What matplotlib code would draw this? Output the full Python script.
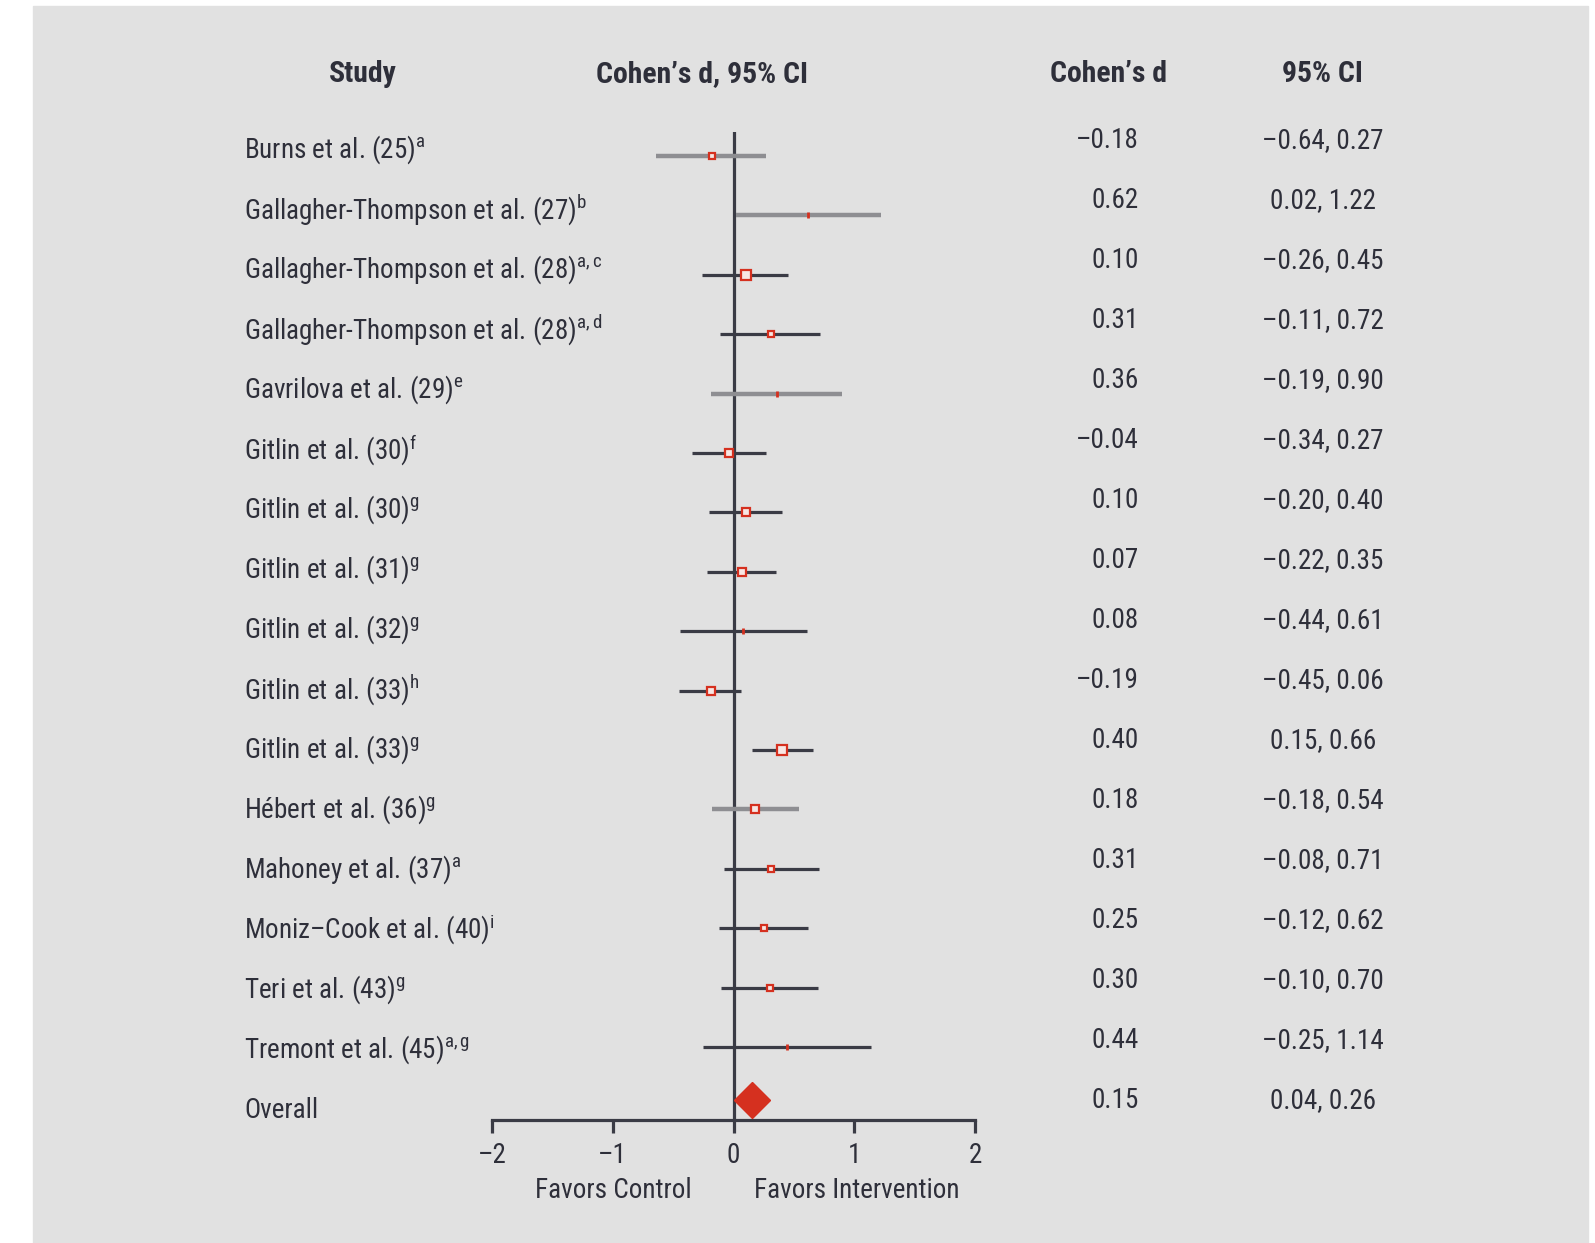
import matplotlib
matplotlib.use("Agg")
import matplotlib.pyplot as plt
from matplotlib import font_manager
from matplotlib.patches import Rectangle

# data
studies = [
    "Burns et al. (25)", "Gallagher-Thompson et al. (27)",
    "Gallagher-Thompson et al. (28)", "Gallagher-Thompson et al. (28)",
    "Gavrilova et al. (29)", "Gitlin et al. (30)", "Gitlin et al. (30)",
    "Gitlin et al. (31)", "Gitlin et al. (32)", "Gitlin et al. (33)",
    "Gitlin et al. (33)", "Hébert et al. (36)", "Mahoney et al. (37)",
    "Moniz\u2013Cook et al. (40)", "Teri et al. (43)", "Tremont et al. (45)",
]
notes = ["a", "b", "a,c", "a,d", "e", "f", "g", "g", "g", "h", "g", "g",
         "a", "i", "g", "a,g"]
d = [-0.18, 0.62, 0.10, 0.31, 0.36, -0.04, 0.10, 0.07, 0.08, -0.19, 0.40,
     0.18, 0.31, 0.25, 0.30, 0.44]
ci_lo = [-0.64, 0.02, -0.26, -0.11, -0.19, -0.34, -0.20, -0.22, -0.44,
         -0.45, 0.15, -0.18, -0.08, -0.12, -0.10, -0.25]
ci_hi = [0.27, 1.22, 0.45, 0.72, 0.90, 0.27, 0.40, 0.35, 0.61, 0.06, 0.66,
         0.54, 0.71, 0.62, 0.70, 1.14]
weight = [5, 1, 6.5, 4.5, 1, 6, 6, 6, 1, 6, 6.5, 6, 4.5, 4.5, 4.5, 1]
overall_d, overall_lo, overall_hi = 0.15, 0.04, 0.26
xticks = [-2, -1, 0, 1, 2]

# styling
grey_rows = [0, 1, 4, 11]
W, H = 1595, 1243
BG = "#e1e1e1"
TXT = "#2e2f3a"
DARK = "#3a3b45"
RED = "#d5301f"

# look for a condensed face, otherwise shrink a normal one
fam, FS = "Liberation Sans", 17
for cand in ["Liberation Sans Narrow", "Roboto Condensed",
             "Open Sans Condensed", "DejaVu Sans Condensed"]:
    try:
        font_manager.findfont(cand, fallback_to_default=False)
        fam, FS = cand, 19.5
        break
    except ValueError:
        pass
HFS = FS * 1.1
plt.rcParams["font.family"] = [fam, "DejaVu Sans"]
plt.rcParams["mathtext.fontset"] = "custom"
plt.rcParams["mathtext.rm"] = fam
plt.rcParams["mathtext.it"] = fam
plt.rcParams["mathtext.bf"] = fam + ":bold"


def fx(px):
    return px / W


def fy(py):
    return 1 - py / H


fig = plt.figure(figsize=(W / 100, H / 100), dpi=100)
fig.patch.set_facecolor("white")
fig.patches.append(Rectangle((fx(33), 0), fx(1588) - fx(33), fy(6),
                             transform=fig.transFigure, color=BG,
                             zorder=-10))

# forest axes: -2 at x=492, 2 at x=975; rows start at y=156, 59.4 px apart
row_px = 59.4
top_px, axis_px = 132, 1120
ax = fig.add_axes([fx(492), fy(axis_px), fx(975) - fx(492),
                   (axis_px - top_px) / H])
ax.set_zorder(5)
ax.set_xlim(-2, 2)
ax.set_ylim((axis_px - 156) / row_px, (top_px - 156) / row_px)
ax.patch.set_visible(False)
for s in ["top", "left", "right"]:
    ax.spines[s].set_visible(False)
ax.spines["bottom"].set_color(DARK)
ax.spines["bottom"].set_linewidth(2.3)
ax.set_yticks([])
ax.set_xticks(xticks)
ax.set_xticklabels([str(t).replace("-", "\u2013") for t in xticks])
ax.tick_params(axis="x", length=9, width=2.3, color=DARK, pad=7,
               labelsize=FS, labelcolor=TXT)

ax.axvline(0, color=DARK, lw=2.3, zorder=2)

for i in range(len(studies)):
    grey = i in grey_rows
    ax.plot([ci_lo[i], ci_hi[i]], [i, i], color="#8e8e92" if grey else DARK,
            lw=3.2 if grey else 2.3, solid_capstyle="butt", zorder=3)
    if weight[i] < 2:
        ax.plot(d[i], i, marker="|", ms=5, mew=2, color=RED, zorder=4)
    else:
        ax.plot(d[i], i, marker="s", ms=weight[i], mfc="#f7e6e3",
                mec=RED, mew=1.6, zorder=4)

ax.plot(overall_d, len(studies) - 0.1, marker="D", ms=18, color=RED,
        mec=RED, zorder=4, clip_on=False)

# headers
hy = fy(74)
fig.text(fx(363), hy, "Study", ha="center", va="center", fontsize=HFS,
         fontweight="bold", color=TXT)
fig.text(fx(702), hy, "Cohen\u2019s d, 95% CI", ha="center", va="center",
         fontsize=HFS, fontweight="bold", color=TXT)
fig.text(fx(1109), hy, "Cohen\u2019s d", ha="center", va="center",
         fontsize=HFS, fontweight="bold", color=TXT)
fig.text(fx(1322), hy, "95% CI", ha="center", va="center", fontsize=HFS,
         fontweight="bold", color=TXT)


def fmt(v):
    return f"{v:.2f}".replace("-", "\u2013")


labels = [f"{s}$^{{\\mathrm{{{n}}}}}$" for s, n in zip(studies, notes)]
labels.append("Overall")
dvals = d + [overall_d]
lows = ci_lo + [overall_lo]
highs = ci_hi + [overall_hi]
for i, lab in enumerate(labels):
    fig.text(fx(244), fy(150 + 60 * i), lab, ha="left", va="center",
             fontsize=FS, color=TXT)
    fig.text(fx(1139), fy(141 + 60 * i), fmt(dvals[i]), ha="right",
             va="center", fontsize=FS, color=TXT)
    fig.text(fx(1323), fy(141 + 60 * i), f"{fmt(lows[i])}, {fmt(highs[i])}",
             ha="center", va="center", fontsize=FS, color=TXT)

fig.text(fx(613), fy(1190), "Favors Control", ha="center", va="center",
         fontsize=FS, color=TXT)
fig.text(fx(857), fy(1190), "Favors Intervention", ha="center", va="center",
         fontsize=FS, color=TXT)

fig.savefig("out.png", dpi=100)
